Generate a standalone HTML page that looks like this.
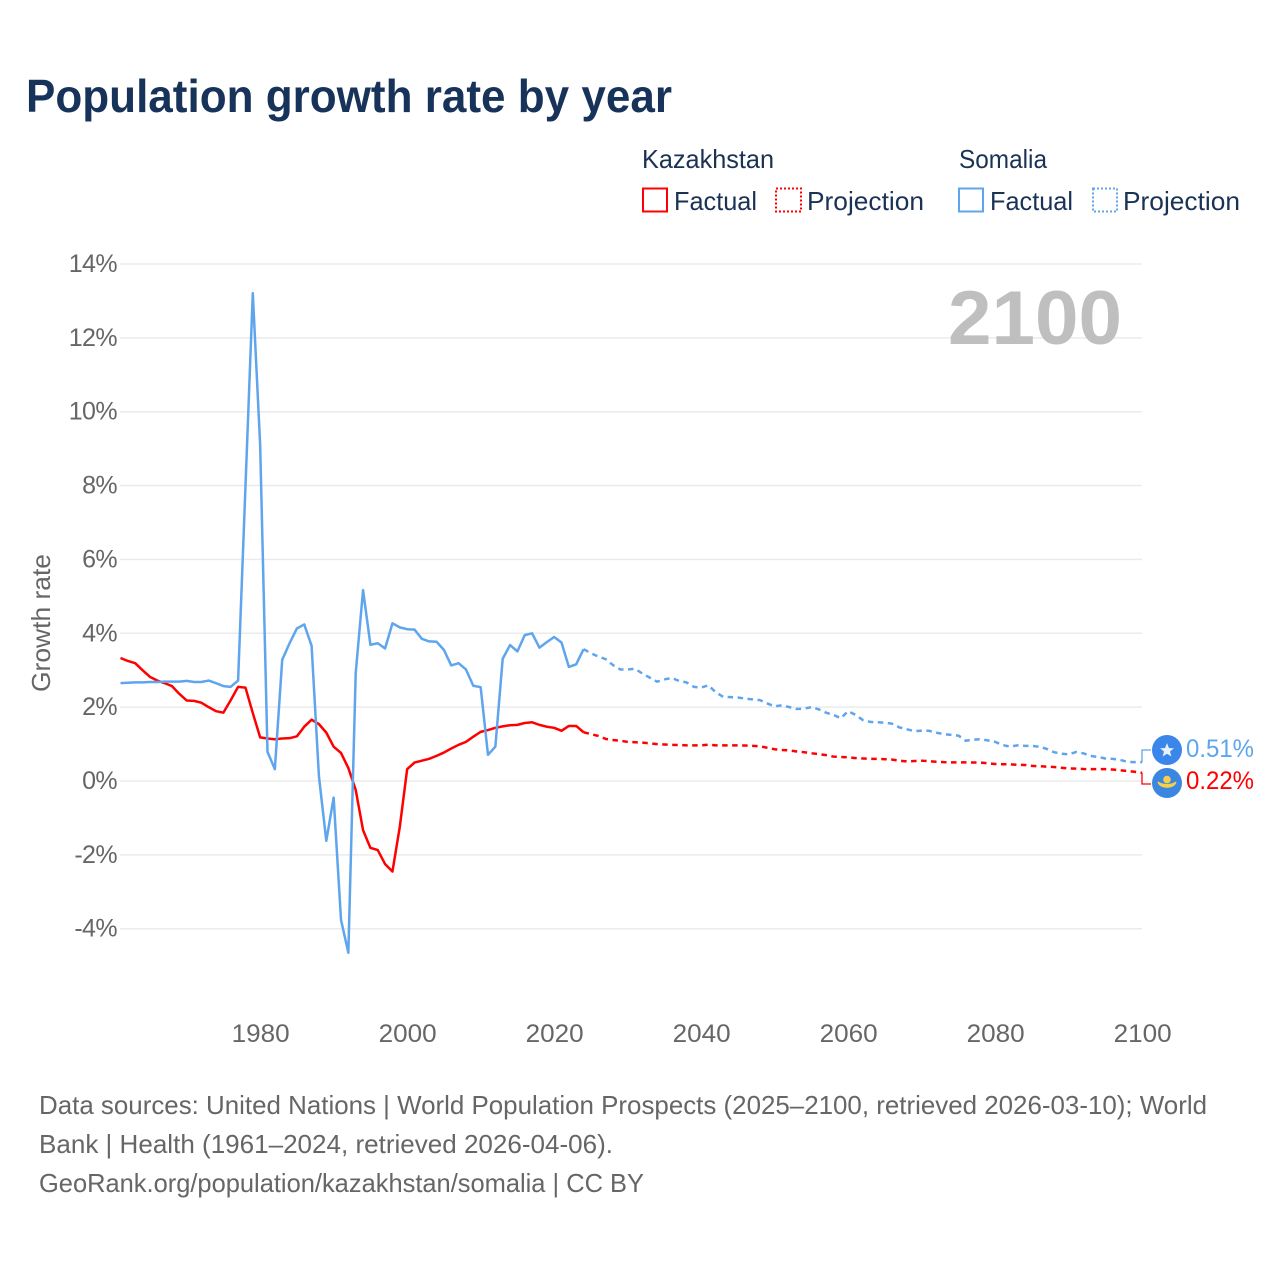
<!DOCTYPE html>
<html lang="en">
<head>
<meta charset="utf-8">
<title>Population growth rate by year</title>
<style>
html,body{margin:0;padding:0;background:#fff;width:1280px;height:1280px;overflow:hidden}
svg{display:block}
text{font-family:"Liberation Sans",sans-serif}
.dark{fill:#1a3254;font-size:26px}
.grey{fill:#666;font-size:26px}
</style>
</head>
<body>
<svg id="chart" xmlns="http://www.w3.org/2000/svg" width="1280" height="1280" viewBox="0 0 1280 1280">
  <rect width="1280" height="1280" fill="#fff"/>
  <text x="26" y="112" font-size="46" font-weight="700" fill="#18335a" textLength="646" lengthAdjust="spacingAndGlyphs">Population growth rate by year</text>

  <g>
    <text class="dark" x="642" y="168" textLength="132" lengthAdjust="spacingAndGlyphs">Kazakhstan</text>
    <text class="dark" x="959" y="168" textLength="88" lengthAdjust="spacingAndGlyphs">Somalia</text>
    <rect x="643" y="188.500" width="24" height="23" fill="none" stroke="#ff0000" stroke-width="2"/>
    <text class="dark" x="674" y="210" textLength="83" lengthAdjust="spacingAndGlyphs">Factual</text>
    <rect x="776" y="188.500" width="25" height="23" fill="none" stroke="#ff0000" stroke-width="2" stroke-dasharray="2 2"/>
    <text class="dark" x="807" y="210" textLength="117" lengthAdjust="spacingAndGlyphs">Projection</text>
    <rect x="959" y="188.500" width="24" height="23" fill="none" stroke="#5fa5ee" stroke-width="2"/>
    <text class="dark" x="990" y="210" textLength="83" lengthAdjust="spacingAndGlyphs">Factual</text>
    <rect x="1093" y="188.500" width="24" height="23" fill="none" stroke="#5fa5ee" stroke-width="2" stroke-dasharray="2 2"/>
    <text class="dark" x="1123" y="210" textLength="117" lengthAdjust="spacingAndGlyphs">Projection</text>
  </g>

  <g id="grid"></g>
  <g id="yticks"></g>
  <g id="xticks"></g>

  <text class="grey" transform="translate(50 692) rotate(-90)" x="0" y="0" textLength="138" lengthAdjust="spacingAndGlyphs">Growth rate</text>

  <text x="948" y="344" font-size="76" font-weight="700" fill="#bfbfbf" textLength="174" lengthAdjust="spacingAndGlyphs">2100</text>

  <g id="series"></g>

  <g>
    <path d="M1142 762V750H1151" fill="none" stroke="#5fa5ee" stroke-width="1.300"/>
    <path d="M1142 773V784H1151" fill="none" stroke="#ff0000" stroke-width="1.300"/>
    <g>
      <circle cx="1167" cy="750" r="15" fill="#3a86ea"/>
      <polygon fill="#e8f0fa" points="1167,743 1168.900,748 1174,748.300 1170,751.500 1171.400,756.500 1167,753.700 1162.600,756.500 1164,751.500 1160,748.300 1165.100,748"/>
    </g>
    <g>
      <circle cx="1167" cy="783" r="15" fill="#3a86e0"/>
      <circle cx="1167" cy="779.500" r="3.800" fill="#f6cf4a"/>
      <path d="M1158.500 782.500C1161 788.500 1173 788.500 1175.500 782.500C1172 785.500 1162 785.500 1158.500 782.500Z" fill="#f6cf4a" stroke="#f6cf4a" stroke-width="1.800" stroke-linejoin="round"/>
    </g>
    <text x="1186" y="757" font-size="25" fill="#5fa5ee" textLength="68" lengthAdjust="spacingAndGlyphs">0.51%</text>
    <text x="1186" y="789" font-size="25" fill="#ff0000" textLength="68" lengthAdjust="spacingAndGlyphs">0.22%</text>
  </g>

  <g>
    <text class="grey" x="39" y="1114" textLength="1168" lengthAdjust="spacingAndGlyphs">Data sources: United Nations | World Population Prospects (2025–2100, retrieved 2026-03-10); World</text>
    <text class="grey" x="39" y="1153" textLength="574" lengthAdjust="spacingAndGlyphs">Bank | Health (1961–2024, retrieved 2026-04-06).</text>
    <text class="grey" x="39" y="1192" textLength="605" lengthAdjust="spacingAndGlyphs">GeoRank.org/population/kazakhstan/somalia | CC BY</text>
  </g>
</svg>
<script>
var yTickValues = [14, 12, 10, 8, 6, 4, 2, 0, -2, -4];
var xTickYears = [1980, 2000, 2020, 2040, 2060, 2080, 2100];
var factualStartYear = 1961;
var projectionStartYear = 2024;

var kazakhstanFactual = [3.33,3.25,3.19,3.0,2.82,2.72,2.65,2.57,2.36,2.18,
  2.17,2.12,2.0,1.89,1.85,2.19,2.55,2.53,1.84,1.18,
  1.15,1.13,1.15,1.16,1.21,1.47,1.66,1.54,1.31,0.93,
  0.76,0.35,-0.24,-1.33,-1.81,-1.87,-2.25,-2.45,-1.24,0.32,
  0.50,0.55,0.60,0.68,0.77,0.88,0.98,1.06,1.20,1.33,
  1.38,1.44,1.48,1.51,1.52,1.57,1.59,1.52,1.47,1.44,
  1.36,1.49,1.49,1.32];

var kazakhstanProjection = [1.32,1.27,1.22,1.14,1.11,1.09,1.06,
  1.05,1.04,1.02,1.00,0.99,0.98,0.975,0.965,0.965,0.965,
  0.985,0.965,0.965,0.965,0.965,0.96,0.95,0.94,0.90,0.86,
  0.84,0.83,0.80,0.78,0.75,0.73,0.70,0.66,0.65,0.64,
  0.62,0.61,0.60,0.60,0.59,0.58,0.55,0.53,0.54,0.55,
  0.535,0.52,0.51,0.505,0.505,0.505,0.50,0.50,0.48,0.46,
  0.455,0.45,0.44,0.435,0.41,0.40,0.39,0.38,0.36,0.34,
  0.335,0.325,0.32,0.32,0.32,0.31,0.29,0.27,0.25,0.22];

var somaliaFactual = [2.65,2.66,2.67,2.67,2.68,2.68,2.69,2.69,2.69,2.71,
  2.68,2.68,2.72,2.65,2.57,2.55,2.72,7.96,13.21,9.1,
  0.79,0.32,3.28,3.73,4.13,4.24,3.66,0.12,-1.62,-0.45,
  -3.76,-4.65,2.92,5.17,3.69,3.73,3.59,4.27,4.16,4.11,
  4.10,3.85,3.78,3.77,3.55,3.13,3.19,3.02,2.58,2.54,
  0.71,0.93,3.31,3.68,3.51,3.95,4.0,3.61,3.76,3.90,
  3.75,3.09,3.16,3.57];

var somaliaProjection = [3.57,3.46,3.37,3.30,3.14,3.02,3.02,
  3.04,2.91,2.80,2.69,2.75,2.79,2.71,2.67,2.55,2.53,
  2.59,2.40,2.28,2.27,2.26,2.23,2.21,2.19,2.10,2.02,
  2.05,2.00,1.95,1.96,2.0,1.94,1.85,1.79,1.70,1.89,
  1.79,1.65,1.60,1.59,1.58,1.55,1.45,1.40,1.35,1.36,
  1.36,1.31,1.27,1.25,1.23,1.09,1.12,1.13,1.10,1.06,
  0.975,0.93,0.965,0.95,0.95,0.93,0.87,0.78,0.74,0.72,
  0.785,0.75,0.68,0.65,0.61,0.60,0.57,0.52,0.51,0.51];

var NS = 'http://www.w3.org/2000/svg';
function xScale(year) { return 120.5 + (year - 1961) * 7.35; }
function yScale(value) { return 781 - value * 36.93; }
function linePath(values, startYear) {
  var d = '';
  for (var i = 0; i < values.length; i++) {
    d += (i ? 'L' : 'M') + xScale(startYear + i).toFixed(2) + ' ' + yScale(values[i]).toFixed(2);
  }
  return d;
}
function drawLine(values, startYear, color, dashed, name) {
  var p = document.createElementNS(NS, 'path');
  p.setAttribute('d', linePath(values, startYear));
  p.setAttribute('fill', 'none');
  p.setAttribute('stroke', color);
  p.setAttribute('stroke-width', '2.5');
  p.setAttribute('stroke-linejoin', 'round');
  if (dashed) { p.setAttribute('stroke-dasharray', '5.5 4.5'); }
  
  
  document.getElementById('series').appendChild(p);
}
yTickValues.forEach(function (v) {
  var l = document.createElementNS(NS, 'line');
  l.setAttribute('x1', '120');
  l.setAttribute('x2', '1142');
  l.setAttribute('y1', yScale(v));
  l.setAttribute('y2', yScale(v));
  l.setAttribute('stroke', '#ebebeb');
  l.setAttribute('stroke-width', '1.500');
  
  
  document.getElementById('grid').appendChild(l);

  var t = document.createElementNS(NS, 'text');
  t.setAttribute('x', '117');
  t.setAttribute('y', yScale(v) + 8);
  t.setAttribute('text-anchor', 'end');
  t.setAttribute('font-size', '25');
  t.setAttribute('letter-spacing', '-0.6');
  t.setAttribute('fill', '#666');
  
  
  t.textContent = v + '%';
  document.getElementById('yticks').appendChild(t);
});
xTickYears.forEach(function (y) {
  var t = document.createElementNS(NS, 'text');
  t.setAttribute('x', xScale(y) - 28.5);
  t.setAttribute('y', '1042');
  t.setAttribute('font-size', '25');
  t.setAttribute('textLength', '58');
  t.setAttribute('lengthAdjust', 'spacingAndGlyphs');
  t.setAttribute('fill', '#666');
  
  
  t.textContent = y;
  document.getElementById('xticks').appendChild(t);
});
drawLine(kazakhstanFactual, factualStartYear, '#ff0000', false, 'kazakhstan-factual-line');
drawLine(kazakhstanProjection, projectionStartYear, '#ff0000', true, 'kazakhstan-projection-line');
drawLine(somaliaFactual, factualStartYear, '#5fa5ee', false, 'somalia-factual-line');
drawLine(somaliaProjection, projectionStartYear, '#5fa5ee', true, 'somalia-projection-line');
</script>
</body>
</html>
